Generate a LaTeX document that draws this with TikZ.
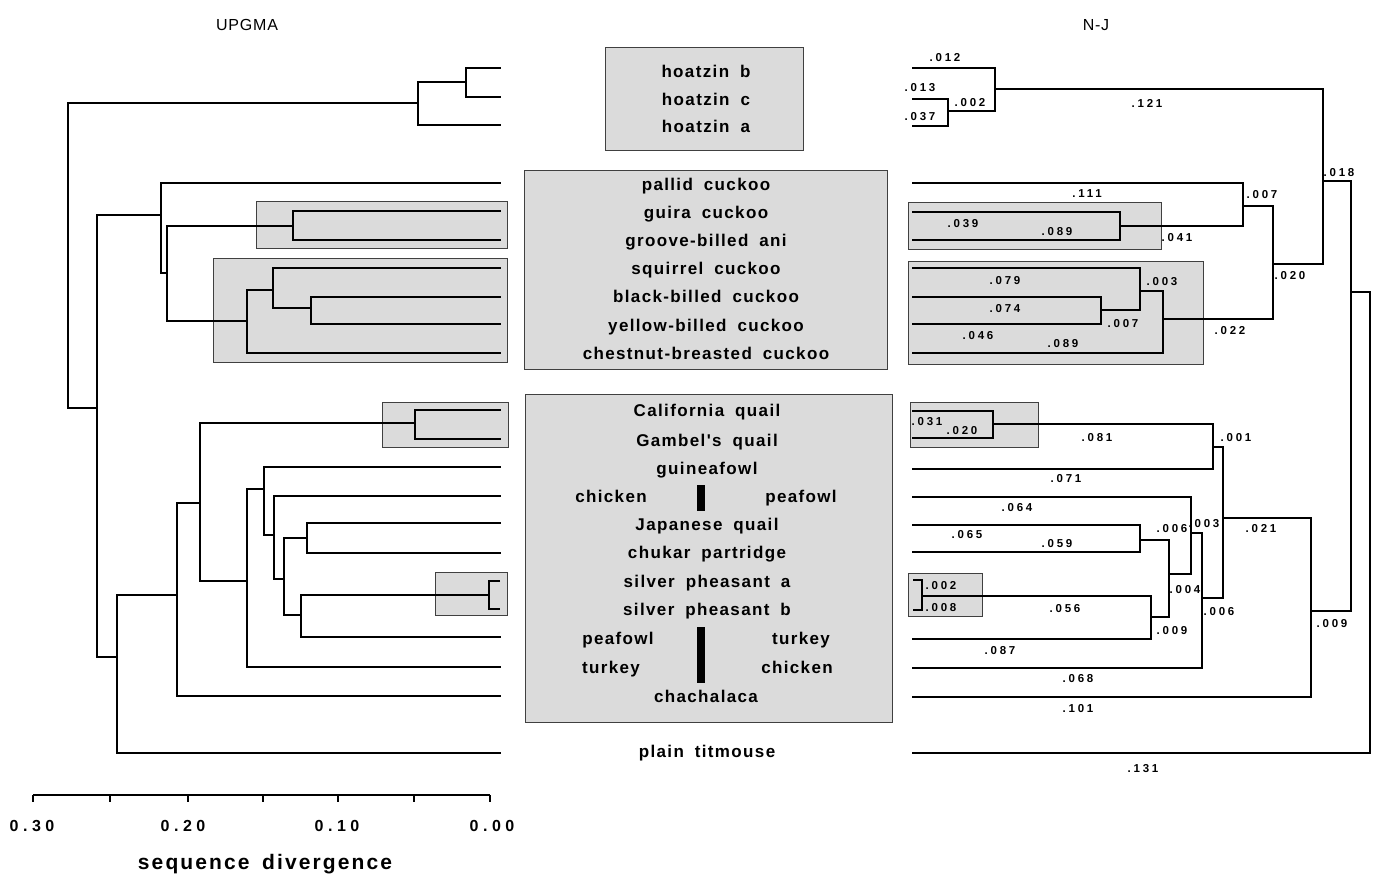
\documentclass[tikz,border=0pt]{standalone}
\usepackage{fontspec}
\setmainfont{Liberation Sans}
\newfontfamily\labfont[LetterSpace=8,WordSpace=1.8]{Liberation Sans}
\newfontfamily\numfont[LetterSpace=24]{Liberation Sans}
\newfontfamily\axfont[LetterSpace=28]{Liberation Sans}
\newfontfamily\ttlfont[LetterSpace=5]{Liberation Sans}
\newfontfamily\dvfont[LetterSpace=10,WordSpace=1.6]{Liberation Sans}
\begin{document}
\begin{tikzpicture}[x=1pt,y=-1pt,
  br/.style={line width=1.5pt,line cap=rect},
  brk/.style={line width=2.6pt},
  shbox/.style={draw=black!75,line width=0.8pt,fill=black!14},
  lab/.style={font={\labfont\bfseries\fontsize{17}{19}\selectfont},inner sep=0pt,anchor=mid,yshift=-2.5pt},
  num/.style={font={\numfont\bfseries\fontsize{11.5}{13}\selectfont},inner sep=0pt,anchor=mid,yshift=-1.5pt},
  axl/.style={font={\axfont\bfseries\fontsize{16}{18}\selectfont},inner sep=0pt,anchor=mid,yshift=-1pt},
  ttl/.style={font={\ttlfont\fontsize{16}{18}\selectfont},inner sep=0pt,anchor=mid,yshift=-1pt},
  dvl/.style={font={\dvfont\bfseries\fontsize{21}{23}\selectfont},inner sep=0pt,anchor=mid,yshift=-1pt}]
\useasboundingbox (0,0) rectangle (1379,883);
\fill[white] (0,0) rectangle (1379,883);

% ---------- shaded boxes ----------
\draw[shbox] (605,47) rectangle (803,150);
\draw[shbox] (524,170) rectangle (887,369);
\draw[shbox] (525,394) rectangle (892,722);
\draw[shbox] (256,201) rectangle (507,248);
\draw[shbox] (213,258) rectangle (507,362);
\draw[shbox] (382,402) rectangle (508,447);
\draw[shbox] (435,572) rectangle (507,615);
\draw[shbox] (908,202) rectangle (1161,249);
\draw[shbox] (908,261) rectangle (1203,364);
\draw[shbox] (910,402) rectangle (1038,447);
\draw[shbox] (908,573) rectangle (982,616);

% ---------- titles ----------
\node[ttl] (tu) at (247,27) {UPGMA};
\node[ttl] (tn) at (1096,27) {N-J};

% ---------- left tree (UPGMA) ----------
\coordinate (L1) at (500,68);
\coordinate (L2) at (500,97);
\coordinate (L3) at (500,125);
\coordinate (L4) at (500,183);
\coordinate (L5) at (500,211);
\coordinate (L6) at (500,240);
\coordinate (L7) at (500,268);
\coordinate (L8) at (500,297);
\coordinate (L9) at (500,324);
\coordinate (L10) at (500,353);
\coordinate (L11) at (500,410);
\coordinate (L12) at (500,439);
\coordinate (L13) at (500,467);
\coordinate (L14) at (500,496);
\coordinate (L15) at (500,523);
\coordinate (L16) at (500,553);
\coordinate (Lsb) at (489,595);
\coordinate (L19) at (500,637);
\coordinate (L20) at (500,667);
\coordinate (L21) at (500,696);
\coordinate (L22) at (500,753);

\coordinate (lh1) at (466,82);
\coordinate (lh2) at (418,103);
\coordinate (lroot) at (68,103);
\coordinate (lR) at (97,408);
\coordinate (lC) at (161,215);
\coordinate (lA) at (167,273);
\coordinate (lga) at (293,226);
\coordinate (lco) at (247,321);
\coordinate (lco2) at (273,290);
\coordinate (lco3) at (311,308);
\coordinate (lX) at (117,657);
\coordinate (lG) at (177,595);
\coordinate (lG1) at (200,503);
\coordinate (lq) at (415,423);
\coordinate (lG2) at (247,581);
\coordinate (lG3) at (264,489);
\coordinate (lG4) at (274,535);
\coordinate (lG5) at (284,579);
\coordinate (ljc) at (307,538);
\coordinate (lsp) at (301,615);

\foreach \p/\c in {lh1/L1,lh1/L2,lh2/lh1,lh2/L3,lroot/lh2,lroot/lR,lR/lC,lR/lX,
  lC/L4,lC/lA,lA/lga,lA/lco,lga/L5,lga/L6,lco/lco2,lco/L10,lco2/L7,lco2/lco3,
  lco3/L8,lco3/L9,lX/lG,lX/L22,lG/lG1,lG/L21,lG1/lq,lG1/lG2,lq/L11,lq/L12,
  lG2/lG3,lG2/L20,lG3/L13,lG3/lG4,lG4/L14,lG4/lG5,lG5/ljc,lG5/lsp,ljc/L15,ljc/L16,
  lsp/Lsb,lsp/L19}
  \draw[br] (\p) |- (\c);
\draw[brk] (500,581) -- (489,581) -- (489,609) -- (500,609);

% ---------- axis ----------
\draw[line width=1.3pt] (33,795) -- (490,795);
\foreach \x in {33,110,188,263,338,414,490} \draw[line width=1.3pt] (\x,795) -- (\x,802);
\node[axl] (a30) at (32,828) {0.30};
\node[axl] (a20) at (183,828) {0.20};
\node[axl] (a10) at (337,828) {0.10};
\node[axl] (a00) at (492,828) {0.00};
\node[dvl] (adv) at (265,866) {sequence divergence};

% ---------- centre labels ----------
\node[lab] (t1) at (706,72) {hoatzin b};
\node[lab] (t2) at (706,100) {hoatzin c};
\node[lab] (t3) at (706,127) {hoatzin a};
\node[lab] (t4) at (706,185) {pallid cuckoo};
\node[lab] (t5) at (706,213) {guira cuckoo};
\node[lab] (t6) at (706,241) {groove-billed ani};
\node[lab] (t7) at (706,269) {squirrel cuckoo};
\node[lab] (t8) at (706,297) {black-billed cuckoo};
\node[lab] (t9) at (706,326) {yellow-billed cuckoo};
\node[lab] (t10) at (706,354) {chestnut-breasted cuckoo};
\node[lab] (t11) at (707,411) {California quail};
\node[lab] (t12) at (707,441) {Gambel's quail};
\node[lab] (t13) at (707,469) {guineafowl};
\node[lab] (t14a) at (611,497) {chicken};
\node[lab] (t14b) at (801,497) {peafowl};
\node[lab] (t15) at (707,525) {Japanese quail};
\node[lab] (t16) at (707,553) {chukar partridge};
\node[lab] (t17) at (707,582) {silver pheasant a};
\node[lab] (t18) at (707,610) {silver pheasant b};
\node[lab] (t19a) at (618,639) {peafowl};
\node[lab] (t19b) at (801,639) {turkey};
\node[lab] (t20a) at (611,668) {turkey};
\node[lab] (t20b) at (797,668) {chicken};
\node[lab] (t21) at (706,697) {chachalaca};
\node[lab] (t22) at (707,752) {plain titmouse};
\fill (697,485) rectangle (705,511);
\fill (697,627) rectangle (705,683);

% ---------- right tree (N-J) ----------
\coordinate (R1) at (913,68);
\coordinate (R2) at (913,99);
\coordinate (R3) at (913,126);
\coordinate (R4) at (913,183);
\coordinate (R5) at (913,212);
\coordinate (R6) at (913,240);
\coordinate (R7) at (913,268);
\coordinate (R8) at (913,297);
\coordinate (R9) at (913,324);
\coordinate (R10) at (913,353);
\coordinate (R11) at (913,411);
\coordinate (R12) at (913,438);
\coordinate (R13) at (913,469);
\coordinate (R14) at (913,497);
\coordinate (R15) at (913,525);
\coordinate (R16) at (913,552);
\coordinate (Rsb) at (922,596);
\coordinate (R19) at (913,639);
\coordinate (R20) at (913,668);
\coordinate (R21) at (913,697);
\coordinate (R22) at (913,753);

\coordinate (rh1) at (995,89);
\coordinate (rh2) at (948,111);
\coordinate (rH) at (1323,181);
\coordinate (rC) at (1273,264);
\coordinate (rC1) at (1243,206);
\coordinate (rga) at (1120,226);
\coordinate (rC2) at (1163,319);
\coordinate (rC3) at (1140,291);
\coordinate (rC4) at (1101,310);
\coordinate (rG) at (1311,611);
\coordinate (rG1) at (1223,518);
\coordinate (rG2) at (1213,447);
\coordinate (rq) at (993,424);
\coordinate (rG3) at (1202,598);
\coordinate (rG4) at (1191,533);
\coordinate (rG5) at (1169,574);
\coordinate (rjc) at (1140,540);
\coordinate (rsp) at (1151,617);
\coordinate (rA) at (1351,292);
\coordinate (rroot) at (1370,292);

\foreach \p/\c in {rh1/R1,rh1/rh2,rh2/R2,rh2/R3,rH/rh1,rH/rC,rC/rC1,rC/rC2,
  rC1/R4,rC1/rga,rga/R5,rga/R6,rC2/rC3,rC2/R10,rC3/R7,rC3/rC4,rC4/R8,rC4/R9,
  rG/rG1,rG/R21,rG1/rG2,rG1/rG3,rG2/rq,rG2/R13,rq/R11,rq/R12,rG3/rG4,rG3/R20,
  rG4/R14,rG4/rG5,rG5/rjc,rG5/rsp,rjc/R15,rjc/R16,rsp/Rsb,rsp/R19,
  rA/rH,rA/rG,rroot/rA,rroot/R22}
  \draw[br] (\p) |- (\c);
\draw[brk] (913,580) -- (922,580) -- (922,610) -- (913,610);

% ---------- branch lengths ----------
\node[num] (n1) at (945,57) {.012};
\node[num] (n2) at (920,87) {.013};
\node[num] (n3) at (920,116) {.037};
\node[num] (n4) at (970,102) {.002};
\node[num] (n5) at (1147,103) {.121};
\node[num] (n6) at (1339,172) {.018};
\node[num] (n7) at (1087,193) {.111};
\node[num] (n8) at (1262,194) {.007};
\node[num] (n9) at (963,223) {.039};
\node[num] (n10) at (1057,231) {.089};
\node[num] (n11) at (1177,237) {.041};
\node[num] (n12) at (1290,275) {.020};
\node[num] (n13) at (1005,280) {.079};
\node[num] (n14) at (1162,281) {.003};
\node[num] (n15) at (1005,308) {.074};
\node[num] (n16) at (1123,323) {.007};
\node[num] (n17) at (978,335) {.046};
\node[num] (n18) at (1063,343) {.089};
\node[num] (n19) at (1230,330) {.022};
\node[num] (n20) at (927,421) {.031};
\node[num] (n21) at (962,430) {.020};
\node[num] (n22) at (1097,437) {.081};
\node[num] (n23) at (1236,437) {.001};
\node[num] (n24) at (1066,478) {.071};
\node[num] (n25) at (1017,507) {.064};
\node[num] (n26) at (967,534) {.065};
\node[num] (n27) at (1057,543) {.059};
\node[num] (n28) at (1172,528) {.006};
\node[num] (n29) at (1204,523) {.003};
\node[num] (n30) at (1261,528) {.021};
\node[num] (n31) at (941,585) {.002};
\node[num] (n32) at (941,607) {.008};
\node[num] (n33) at (1185,589) {.004};
\node[num] (n34) at (1065,608) {.056};
\node[num] (n35) at (1219,611) {.006};
\node[num] (n36) at (1172,630) {.009};
\node[num] (n37) at (1332,623) {.009};
\node[num] (n38) at (1000,650) {.087};
\node[num] (n39) at (1078,678) {.068};
\node[num] (n40) at (1078,708) {.101};
\node[num] (n41) at (1143,768) {.131};
\end{tikzpicture}
\end{document}
